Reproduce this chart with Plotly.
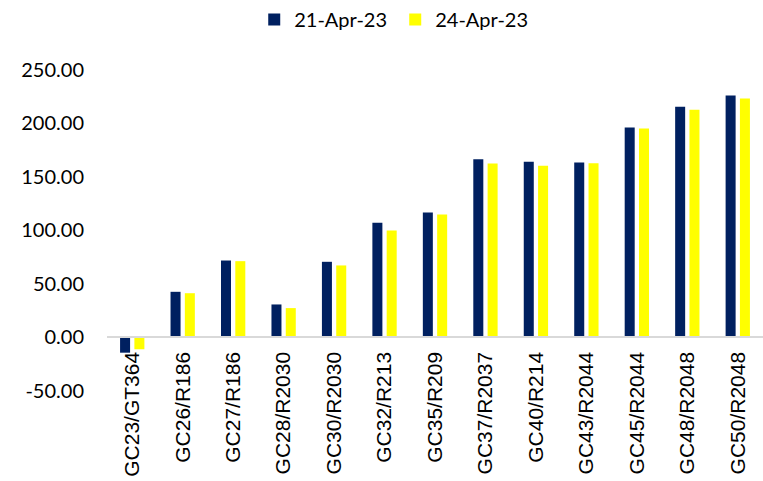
import plotly.graph_objects as go

categories = ["GC23/GT364", "GC26/R186", "GC27/R186", "GC28/R2030", "GC30/R2030",
              "GC32/R213", "GC35/R209", "GC37/R2037", "GC40/R214", "GC43/R2044",
              "GC45/R2044", "GC48/R2048", "GC50/R2048"]
series_names = ["21-Apr-23", "24-Apr-23"]
apr21 = [-14.2, 42.6, 71.8, 30.8, 70.6, 107.0, 116.6, 166.3, 163.9, 163.2, 195.9, 215.2, 225.7]
apr24 = [-11.0, 41.3, 71.2, 27.4, 67.2, 99.8, 114.7, 162.3, 160.2, 162.6, 195.0, 212.4, 223.0]
y_tickvals = [250, 200, 150, 100, 50, 0, -50]
y_ticktext = ["250.00", "200.00", "150.00", "100.00", "50.00", "0.00", "-50.00"]

colors = ["#002060", "#FFFF00"]
y_min, y_max = -60.2, 268.2
top, bottom = 50, 79
plot_h = 481 - top - bottom

fig = go.Figure()
for name, vals, col in zip(series_names, [apr21, apr24], colors):
    fig.add_trace(go.Bar(x=categories, y=vals, name=name, marker_color=col,
                         marker_line_width=0))

fig.update_layout(
    width=763, height=481,
    margin=dict(l=107, r=0, t=top, b=bottom, autoexpand=False),
    paper_bgcolor="white", plot_bgcolor="white",
    barmode="group", bargap=0.433, bargroupgap=0.3,
    showlegend=True,
    legend=dict(orientation="h", xref="container", yref="paper",
                x=0.518, xanchor="center", y=1 + (top) / plot_h, yanchor="top",
                font=dict(family="Lato", size=20, color="#000000"),
                entrywidth=96, entrywidthmode="pixels",
                itemclick=False),
    xaxis=dict(anchor="free", position=(0 - y_min) / (y_max - y_min),
               showline=True, linecolor="#D9D9D9", linewidth=2,
               tickangle=-90, ticks="", ticklabelstandoff=5,
               tickfont=dict(family="Liberation Sans", size=21, color="#000000"),
               showgrid=False, zeroline=False, automargin=False),
    yaxis=dict(range=[y_min, y_max], tickvals=y_tickvals, ticktext=y_ticktext,
               showgrid=False, zeroline=False, showline=False, ticks="",
               ticklabelstandoff=22,
               tickfont=dict(family="Lato", size=20, color="#000000"),
               automargin=False),
)

fig.write_html("out.html",
               config={"displayModeBar": False},
               post_script="document.body.style.margin='0';document.body.style.overflow='hidden';")
